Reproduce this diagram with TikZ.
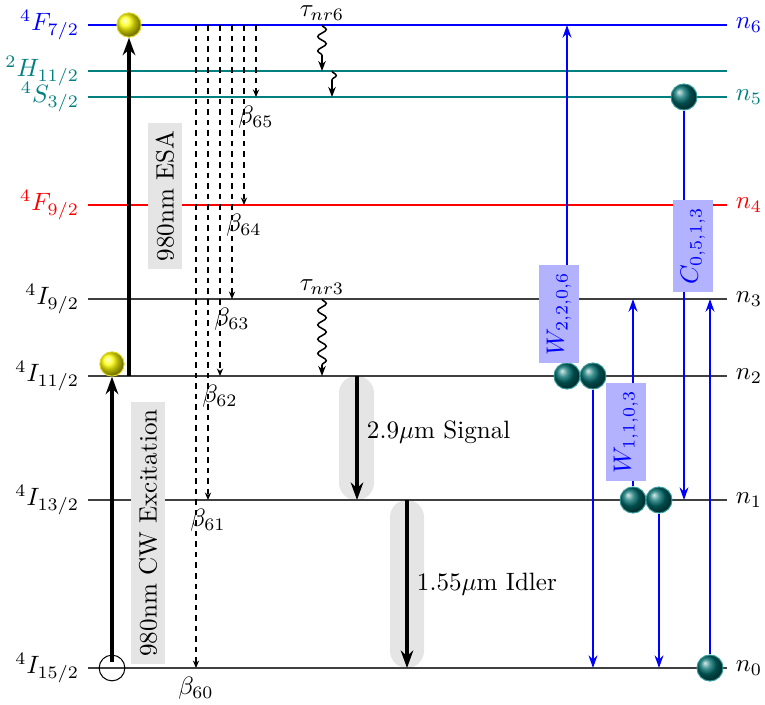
\documentclass[tikz,border=0pt]{standalone}
\usepackage{amsmath,amssymb}
\usepackage{xcolor}
\usetikzlibrary{arrows.meta,decorations.pathmorphing}

\begin{document}
\begin{tikzpicture}[x=0.014cm, y=-0.014cm]
    \tikzset{lvl/.style={semithick},
             yball/.style={circle, draw=yellow!85!black, shading=ball, ball color=yellow,
                           minimum size=0.34cm, inner sep=0pt},
             tball/.style={circle, draw=teal!80, shading=ball, ball color=teal!85!black,
                           minimum size=0.365cm, inner sep=0pt},
             pump/.style={-{Stealth[length=7pt,width=5pt]}, line width=1.3pt},
             decay/.style={dash pattern=on 2.2pt off 2pt, thin, -{Stealth[length=3pt,width=2.5pt]}},
             nrdecay/.style={decorate, decoration={snake, amplitude=0.6mm, segment length=2mm,
                             post length=1.5mm}, semithick, -{Stealth[length=4pt,width=3pt]}},
             transfer/.style={blue, thick, -{Stealth[length=5pt,width=3.5pt]}},
             etlabel/.style={fill=blue!30, text=blue, rotate=90, inner sep=3pt},
             graylabel/.style={fill=gray!20, rotate=90, inner sep=3pt}}
    \useasboundingbox (0,0) rectangle (765,704);
    % emission strips
    \fill[gray!20, rounded corners=0.24cm] (339,376) rectangle (374,500);
    \fill[gray!20, rounded corners=0.24cm] (390,500) rectangle (424,668);
    % energy levels
    \foreach \n/\y/\c/\tc/\t in {0/668/black!75/black/{^4I_{15/2}}, 1/500/black!75/black/{^4I_{13/2}},
                                 2/376/black!75/black/{^4I_{11/2}}, 3/299/black!75/black/{^4I_{9/2}},
                                 4/205/red/red/{^4F_{9/2}}, 5/97/teal/teal/{^4S_{3/2}},
                                 6/25/blue/blue/{^4F_{7/2}}}{
      \coordinate (L\n) at (88,\y);
      \coordinate (R\n) at (727,\y);
      \draw[lvl, \c] (L\n) -- (R\n);
      \node[left, text=\tc] (t\n) at (L\n) {$\t$};
      \node[right, text=\tc] (n\n) at (R\n) {$n_{\n}$};
    }
    \coordinate (Lh) at (88,71);
    \coordinate (Rh) at (727,71);
    \draw[lvl, teal] (Lh) -- (Rh);
    \node[left, text=teal] (th) at (Lh) {$^2H_{11/2}$};
    % radiative branching
    \foreach \k/\x in {0/196, 1/208, 2/220, 3/232, 4/244, 5/256}
      \draw[decay] (\x,0 |- L6) -- (\x,0 |- L\k) node[below] {$\beta_{6\k}$};
    % non-radiative decay
    \draw[nrdecay] (322,0 |- L6) node[above, inner sep=1.5pt] (tau6) {$\tau_{nr6}$} -- (322,0 |- Lh);
    \draw[nrdecay] (332,0 |- Lh) -- (332,0 |- L5);
    \draw[nrdecay] (322,0 |- L3) node[above, inner sep=1.5pt] (tau3) {$\tau_{nr3}$} -- (322,0 |- L2);
    % pumping
    \node[circle, draw, minimum size=0.36cm, inner sep=0pt] (g0) at (112,668) {};
    \node[yball] (y2) at (112,364) {};
    \node[yball] (y6) at (129,25) {};
    \draw[pump] ([yshift=-3pt]g0.north) -- (y2.south);
    \draw[pump] (129,0 |- L2) -- (y6.south);
    \node[graylabel] (cw) at (148,533) {980nm CW Excitation};
    \node[graylabel] (esa) at (165,196) {980nm ESA};
    % signal and idler
    \draw[pump] (357,0 |- L2) -- (357,0 |- L1) node[pos=0.45, right] (sig) {2.9$\mu$m Signal};
    \draw[pump] (407,0 |- L1) -- (407,0 |- L0) node[midway, right] (idl) {1.55$\mu$m Idler};
    % energy transfer
    \node[tball] (a1) at (567,376) {};
    \node[tball] (a2) at (593,376) {};
    \node[tball] (c1) at (633,500) {};
    \node[tball] (c2) at (659,500) {};
    \node[tball] (d1) at (684,97) {};
    \node[tball] (d2) at (710,668) {};
    \draw[transfer] (a1.north) -- (a1.north |- R6);
    \draw[transfer] (a2.south) -- (a2.south |- R0);
    \draw[transfer] (c1.north) -- (c1.north |- R3);
    \draw[transfer] (c2.south) -- (c2.south |- R0);
    \draw[transfer] (d1.south) -- (d1.south |- R1);
    \draw[transfer] (d2.north) -- (d2.north |- R3);
    \node[etlabel] (w2206) at (559,314) {$W_{2,2,0,6}$};
    \node[etlabel] (w1103) at (626,432) {$W_{1,1,0,3}$};
    \node[etlabel] (c0513) at (693,246) {$C_{0,5,1,3}$};
\end{tikzpicture}
\end{document}
